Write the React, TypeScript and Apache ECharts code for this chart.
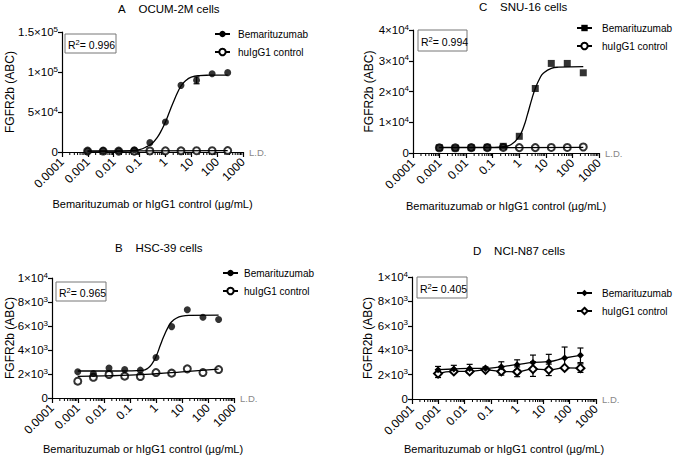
import React, { useEffect, useRef } from 'react';
import * as echarts from 'echarts';

const FONT = '"Liberation Sans", Arial, Helvetica, sans-serif';

// Doses (µg/mL), 4-fold dilution series
const DOSES = [0.00098, 0.0039, 0.0156, 0.0625, 0.25, 1, 4, 16, 64, 256];
const X_TICK_LABELS = ['0.0001', '0.001', '0.01', '0.1', '1', '10', '100', '1000'];

// Panel A – OCUM-2M
const A_BEMA = [1300, 1700, 1300, 2900, 11700, 37500, 83300, 89600, 97900, 99200];
const A_BEMA_ERR = [0, 0, 0, 0, 0, 0, 0, 4300, 0, 0];
const A_CTRL = [1100, 1200, 1100, 1000, 1300, 1400, 1500, 1600, 1600, 1800];
const A_FIT_X = [0.00098, 0.01, 0.05, 0.1, 0.2, 0.3, 0.5, 0.7, 1, 1.5, 2, 3, 4, 6, 10, 20, 50, 256];
const A_FIT_Y = [1000, 1100, 1800, 3000, 7000, 10500, 19000, 27000, 37500, 52000, 62000, 75000, 82500, 89000, 93500, 95500, 96000, 96200];
const A_CTRL_FIT_X = [0.00098, 0.1, 256];
const A_CTRL_FIT_Y = [1200, 1300, 1600];

// Panel C – SNU-16
const C_BEMA = [1740, 1630, 1740, 1850, 2170, 5430, 20980, 29130, 29130, 26090];
const C_CTRL = [1700, 1700, 1750, 1750, 1800, 1750, 1750, 1800, 1800, 1950];
const C_FIT_X = [0.00098, 0.01, 0.1, 0.25, 0.5, 1, 1.5, 2, 3, 4, 6, 8, 16, 30, 256];
const C_FIT_Y = [1800, 1800, 1850, 2050, 2750, 5400, 8800, 12300, 17700, 21000, 24400, 25900, 27500, 27900, 28100];
const C_CTRL_FIT_X = [0.00098, 1, 256];
const C_CTRL_FIT_Y = [1720, 1770, 1850];

// Panel B – HSC-39
const B_BEMA = [2180, 2040, 2490, 2370, 2320, 3380, 5950, 7350, 6730, 6540];
const B_CTRL = [1400, 1730, 1960, 1820, 1790, 2120, 2070, 2430, 2120, 2370];
const B_FIT_X = [0.00098, 0.01, 0.1, 0.3, 0.5, 0.7, 1, 1.5, 2, 3, 4, 6, 10, 20, 256];
const B_FIT_Y = [2250, 2250, 2260, 2300, 2500, 2850, 3450, 4450, 5150, 5950, 6350, 6650, 6820, 6880, 6900];
const B_CTRL_FIT_X = [0.00098, 0.01, 0.1, 1, 10, 100, 256];
const B_CTRL_FIT_Y = [1800, 1840, 1900, 2020, 2180, 2340, 2400];

// Panel D – NCI-N87
const D_BEMA = [2400, 2460, 2510, 2510, 2650, 2810, 3000, 3060, 3360, 3580];
const D_BEMA_ERR = [270, 300, 330, 120, 400, 400, 600, 600, 900, 600];
const D_CTRL = [2080, 2260, 2260, 2390, 2260, 2230, 2450, 2390, 2550, 2530];
const D_CTRL_ERR = [320, 150, 150, 100, 300, 400, 600, 470, 100, 350];

const R2 = { A: '0.996', B: '0.965', C: '0.994', D: '0.405' };

const MINOR_TICKS: number[] = [];
for (let e = -4; e < 3; e++) for (let m = 2; m <= 9; m++) MINOR_TICKS.push(m * Math.pow(10, e));

const pairs = (xs: number[], ys: number[]) => xs.map((x, i) => [x, ys[i]]);

const PANELS: any[] = [
  {
    key: 'A', title: 'OCUM-2M cells', grid: { left: 62, top: 32, width: 181, height: 120 },
    yMax: 150000, yInt: 50000, bema: A_BEMA, bemaErr: A_BEMA_ERR, ctrl: A_CTRL, ctrlErr: null,
    fit: pairs(A_FIT_X, A_FIT_Y), ctrlFit: pairs(A_CTRL_FIT_X, A_CTRL_FIT_Y),
    bemaSym: 'circle', ctrlSym: 'emptyCircle', symSize: 7,
    titlePos: [118, 9], r2Box: [65, 34, 51, 19], legend: [214, 29], legendPad: 3, legendFont: 10,
    yNameGap: 46, xNameGap: 46,
  },
  {
    key: 'C', title: 'SNU-16 cells', grid: { left: 413, top: 30, width: 186, height: 123 },
    yMax: 40000, yInt: 10000, bema: C_BEMA, bemaErr: null, ctrl: C_CTRL, ctrlErr: null,
    fit: pairs(C_FIT_X, C_FIT_Y), ctrlFit: pairs(C_CTRL_FIT_X, C_CTRL_FIT_Y),
    bemaSym: 'rect', ctrlSym: 'emptyCircle', symSize: 7,
    titlePos: [479, 7], r2Box: [418, 30, 49, 21], legend: [576, 23], legendPad: 5, legendFont: 10,
    yNameGap: 38, xNameGap: 47,
  },
  {
    key: 'B', title: 'HSC-39 cells', grid: { left: 52, top: 278, width: 182, height: 120 },
    yMax: 10000, yInt: 2000, bema: B_BEMA, bemaErr: null, ctrl: B_CTRL, ctrlErr: null,
    fit: pairs(B_FIT_X, B_FIT_Y), ctrlFit: pairs(B_CTRL_FIT_X, B_CTRL_FIT_Y),
    bemaSym: 'circle', ctrlSym: 'emptyCircle', symSize: 7,
    titlePos: [115, 248], r2Box: [56, 282, 50, 19], legend: [222, 268], legendPad: 1, legendFont: 10,
    yNameGap: 36, xNameGap: 45,
  },
  {
    key: 'D', title: 'NCI-N87 cells', grid: { left: 412, top: 277, width: 184, height: 122 },
    yMax: 10000, yInt: 2000, bema: D_BEMA, bemaErr: D_BEMA_ERR, ctrl: D_CTRL, ctrlErr: D_CTRL_ERR,
    fit: null, ctrlFit: null,
    bemaSym: 'diamond', ctrlSym: 'emptyDiamond', symSize: 8,
    titlePos: [473, 251], r2Box: [417, 277, 50, 21], legend: [576, 288], legendPad: 5, legendFont: 10,
    yNameGap: 38, xNameGap: 44,
  },
];

function yFmt(v: number) {
  if (v === 0) return '{n|0}';
  const e = Math.floor(Math.log10(v) + 1e-9);
  const m = +(v / Math.pow(10, e)).toFixed(1);
  return `{n|${m}×10}{s|${e}}`;
}

function xFmt(v: number) {
  const i = Math.round(Math.log10(v)) + 4;
  return X_TICK_LABELS[i] ?? '';
}

function errBarSeries(i: number, ys: number[], errs: number[]) {
  return {
    type: 'custom', xAxisIndex: i, yAxisIndex: i, silent: true, clip: false, z: 2,
    data: DOSES.map((x, j) => [x, ys[j], errs[j]]).filter((d) => d[2] > 0),
    renderItem: (_p: any, api: any) => {
      const x = api.value(0), y = api.value(1), e = api.value(2);
      const t = api.coord([x, y + e]);
      const b = api.coord([x, y - e]);
      const w = 3;
      const st = { stroke: '#000', lineWidth: 1.2 };
      return {
        type: 'group',
        children: [
          { type: 'line', shape: { x1: t[0], y1: t[1], x2: b[0], y2: b[1] }, style: st },
          { type: 'line', shape: { x1: t[0] - w, y1: t[1], x2: t[0] + w, y2: t[1] }, style: st },
          { type: 'line', shape: { x1: b[0] - w, y1: b[1], x2: b[0] + w, y2: b[1] }, style: st },
        ],
      };
    },
  };
}

export default function App() {
  const ref = useRef<HTMLDivElement>(null);
  useEffect(() => {
    document.body.style.margin = '0';
    if (!ref.current) return;
    const chart = echarts.init(ref.current, undefined, { renderer: 'svg' });
    const grids: any[] = [], xAxes: any[] = [], yAxes: any[] = [], legends: any[] = [], series: any[] = [], graphics: any[] = [];

    PANELS.forEach((p, i) => {
      grids.push({ ...p.grid, containLabel: false, outerBoundsMode: 'none' });
      xAxes.push({
        type: 'log', logBase: 10, gridIndex: i, min: 0.0001, max: 1000, splitNumber: 7,
        name: 'Bemarituzumab or hIgG1 control (µg/mL)', nameLocation: 'middle', nameGap: p.xNameGap,
        nameMoveOverlap: false,
        nameTextStyle: { fontFamily: FONT, fontSize: 11, color: '#000' },
        axisLine: { show: true, onZero: false, lineStyle: { color: '#000', width: 1.2 } },
        axisTick: { show: true, length: 5, lineStyle: { color: '#000', width: 1.2 } },
        minorTick: { show: false },
        splitLine: { show: false },
        axisLabel: { formatter: xFmt, rotate: 45, margin: 8, fontFamily: FONT, fontSize: 12, color: '#000', hideOverlap: false, showMinLabel: true, showMaxLabel: true },
      });
      yAxes.push({
        type: 'value', gridIndex: i, min: 0, max: p.yMax, interval: p.yInt,
        name: 'FGFR2b (ABC)', nameLocation: 'middle', nameGap: p.yNameGap, nameMoveOverlap: false,
        nameTextStyle: { fontFamily: FONT, fontSize: 12, color: '#000' },
        axisLine: { show: true, lineStyle: { color: '#000', width: 1.2 } },
        axisTick: { show: true, length: 4, lineStyle: { color: '#000', width: 1.2 } },
        splitLine: { show: false },
        axisLabel: {
          formatter: yFmt, margin: 4, color: '#000',
          rich: {
            n: { fontFamily: FONT, fontSize: 11.5, color: '#000', lineHeight: 14 },
            s: { fontFamily: FONT, fontSize: 8, color: '#000', lineHeight: 8, verticalAlign: 'top' },
          },
        },
      });

      const nB = `${p.key}|Bemarituzumab`;
      const nC = `${p.key}|huIgG1 control`;
      legends.push({
        data: [nB, nC], left: p.legend[0], top: p.legend[1], orient: 'vertical', itemWidth: 15, itemHeight: 8, itemGap: 8,
        selectedMode: false, formatter: (n: string) => n.split('|')[1], padding: 0,
        textStyle: { fontFamily: FONT, fontSize: p.legendFont, color: '#000', padding: [0, 0, 0, p.legendPad] },
      });

      // minor ticks
      series.push({
        type: 'custom', xAxisIndex: i, yAxisIndex: i, silent: true, clip: false,
        data: MINOR_TICKS.map((v) => [v, 0]),
        renderItem: (_pp: any, api: any) => {
          const c = api.coord([api.value(0), 0]);
          return { type: 'line', shape: { x1: c[0], y1: c[1], x2: c[0], y2: c[1] + 3 }, style: { stroke: '#000', lineWidth: 1 } };
        },
      });

      if (p.ctrlErr) series.push(errBarSeries(i, p.ctrl, p.ctrlErr));
      if (p.bemaErr) series.push(errBarSeries(i, p.bema, p.bemaErr));

      if (p.fit) {
        series.push({
          type: 'line', name: nC, xAxisIndex: i, yAxisIndex: i, data: p.ctrlFit, smooth: true, showSymbol: false,
          symbol: p.ctrlSym, symbolSize: p.symSize, silent: true,
          lineStyle: { color: '#000', width: 1.3 }, itemStyle: { color: '#000' },
        });
        series.push({
          type: 'scatter', xAxisIndex: i, yAxisIndex: i, data: pairs(DOSES, p.ctrl), symbol: 'emptyCircle', symbolSize: p.symSize,
          itemStyle: { color: '#000', borderWidth: 1.4 }, silent: true,
        });
        series.push({
          type: 'line', name: nB, xAxisIndex: i, yAxisIndex: i, data: p.fit, smooth: 0.5, showSymbol: false,
          symbol: p.bemaSym, symbolSize: p.symSize, silent: true,
          lineStyle: { color: '#000', width: 1.3 }, itemStyle: { color: '#000' },
        });
        series.push({
          type: 'scatter', xAxisIndex: i, yAxisIndex: i, data: pairs(DOSES, p.bema), symbol: p.bemaSym, symbolSize: p.symSize,
          itemStyle: { color: '#000' }, silent: true,
        });
      } else {
        series.push({
          type: 'line', name: nC, xAxisIndex: i, yAxisIndex: i, data: pairs(DOSES, p.ctrl), smooth: true,
          symbol: p.ctrlSym, symbolSize: 8, showSymbol: true, silent: true,
          lineStyle: { color: '#000', width: 1.3 }, itemStyle: { color: '#000', borderWidth: 1.4 },
        });
        series.push({
          type: 'line', name: nB, xAxisIndex: i, yAxisIndex: i, data: pairs(DOSES, p.bema), smooth: true,
          symbol: p.bemaSym, symbolSize: 7, showSymbol: true, silent: true,
          lineStyle: { color: '#000', width: 1.3 }, itemStyle: { color: '#000' },
        });
      }

      // Title
      graphics.push({
        type: 'text', x: p.titlePos[0], y: p.titlePos[1], silent: true,
        style: { text: `${p.key}\u00a0\u00a0\u00a0\u00a0${p.title}`, fontFamily: FONT, fontSize: 11.5, fill: '#000', verticalAlign: 'middle' },
      });
      // R² box
      const [bx, by, bw, bh] = p.r2Box;
      graphics.push({
        type: 'rect', silent: true, shape: { x: bx, y: by, width: bw, height: bh },
        style: { fill: '#fff', stroke: '#777', lineWidth: 1 },
      });
      graphics.push({
        type: 'text', x: bx + 3, y: by + bh / 2 + 1, silent: true,
        style: {
          text: `{r|R}{s|2}{r|= ${(R2 as any)[p.key]}}`, verticalAlign: 'middle',
          rich: {
            r: { fontFamily: FONT, fontSize: 10.5, fill: '#000', lineHeight: 13 },
            s: { fontFamily: FONT, fontSize: 7.5, fill: '#000', lineHeight: 7, verticalAlign: 'top' },
          },
        },
      });
      // L.D. label
      graphics.push({
        type: 'text', x: p.grid.left + p.grid.width + 6, y: p.grid.top + p.grid.height, silent: true,
        style: { text: 'L.D.', fontFamily: FONT, fontSize: 9.5, fill: '#888', verticalAlign: 'middle' },
      });
    });

    chart.setOption({
      animation: false,
      backgroundColor: '#fff',
      grid: grids,
      xAxis: xAxes,
      yAxis: yAxes,
      legend: legends,
      series,
      graphic: graphics,
    });
    return () => chart.dispose();
  }, []);
  return <div ref={ref} style={{ width: 676, height: 461 }} />;
}
